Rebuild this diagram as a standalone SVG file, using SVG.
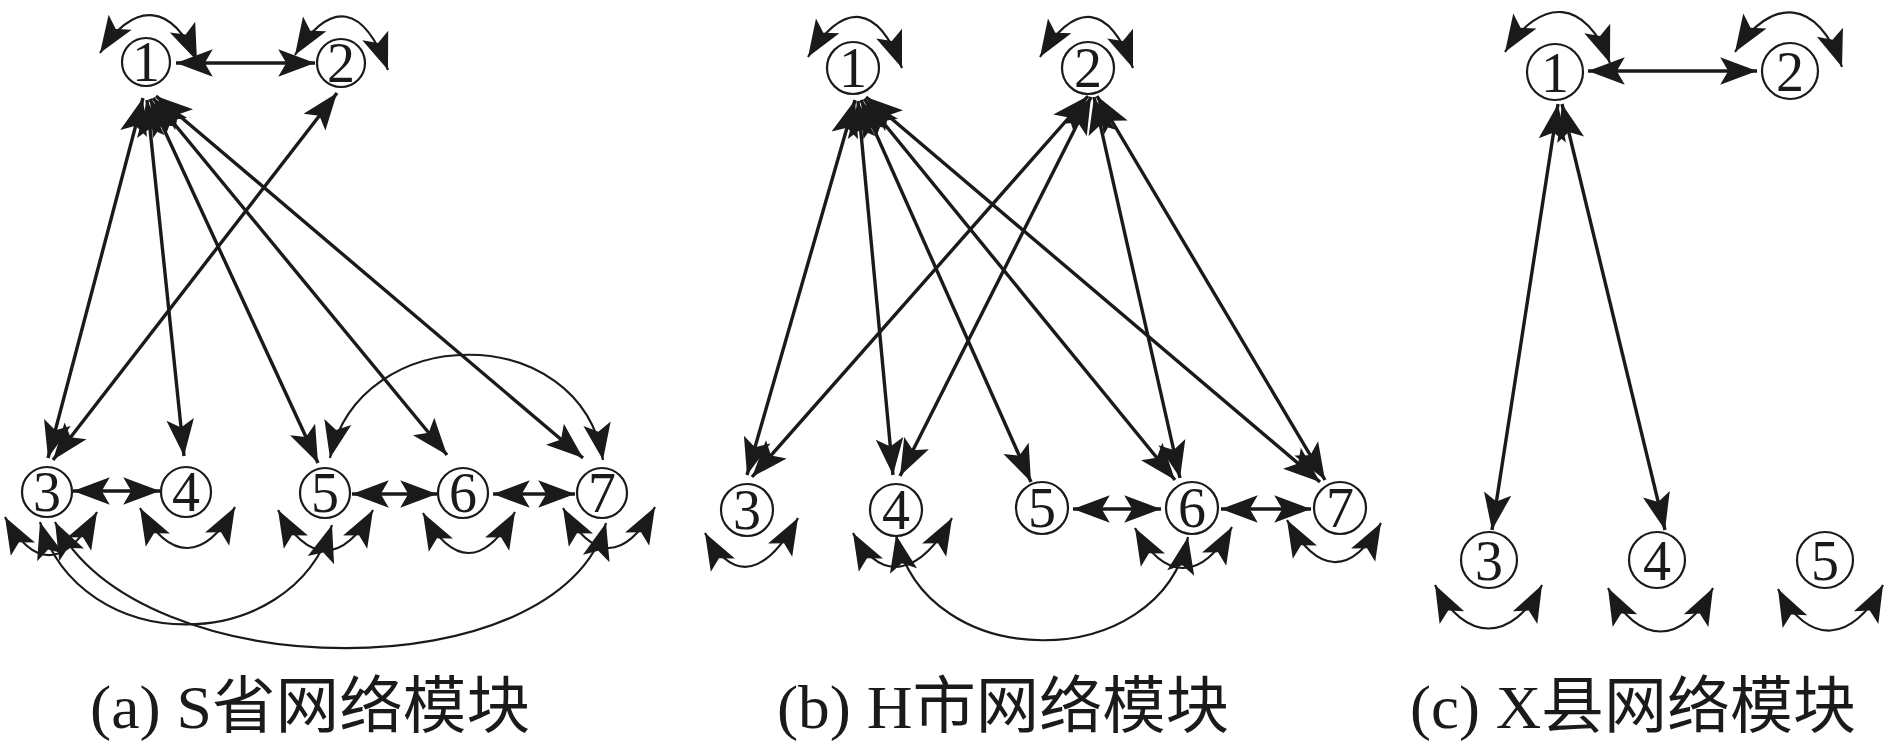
<svg xmlns="http://www.w3.org/2000/svg" width="1890" height="751" viewBox="0 0 1890 751">
<style>
.nd circle{fill:#fff;stroke:#1a1a1a;stroke-width:2.2}
.nd text{font-family:"Liberation Serif","Times New Roman",serif;font-size:56px;fill:#1a1a1a;text-anchor:middle}
.e{fill:none;stroke:#1a1a1a;stroke-width:3.4;marker-start:url(#ah);marker-end:url(#ah)}
.c{fill:none;stroke:#1a1a1a;stroke-width:2.2;marker-start:url(#ah);marker-end:url(#ah)}
.cap{font-family:"Liberation Serif","Noto Sans CJK SC",serif;font-size:62px;fill:#1a1a1a}
</style>
<defs>
<marker id="ah" viewBox="0 0 44 30" refX="42" refY="15" markerWidth="50.6" markerHeight="34.5" markerUnits="userSpaceOnUse" orient="auto-start-reverse" overflow="visible">
<path d="M42,15 L10,3 L17,15 L10,27 Z" fill="#1a1a1a"/>
</marker>
</defs>
<rect width="1890" height="751" fill="#fff"/>
<g id="connectors">
<!-- panel a -->
<path class="e" d="M176,63 L315,63"/>
<path class="e" d="M143,98 L48,458"/>
<path class="e" d="M147,100 L184,456"/>
<path class="e" d="M150,99 L318,463"/>
<path class="e" d="M153,98 L447,455"/>
<path class="e" d="M156,96 L583,458"/>
<path class="e" d="M337,93 L53,460"/>
<path class="e" d="M73,491 L160,491"/>
<path class="e" d="M352,494 L437,494"/>
<path class="e" d="M493,494 L575,494"/>
<path class="c" d="M100,53 C136,-2 173,5 197,61"/>
<path class="c" d="M295,55 C331,-2 364,5 388,70"/>
<path class="c" d="M5,517 C35,571 67,566 97,512"/>
<path class="c" d="M140,508 C170,562 205,561 235,507"/>
<path class="c" d="M278,510 C308,564 343,564 373,510"/>
<path class="c" d="M423,513 C453,567 485,566 515,512"/>
<path class="c" d="M563,508 C593,562 625,561 655,507"/>
<path class="c" d="M40,522 C80,658 290,658 332,525"/>
<path class="c" d="M55,522 C140,690 560,690 606,523"/>
<path class="c" d="M330,458 C360,320 580,320 603,460"/>
<!-- panel b -->
<path class="e" d="M855,100 L747,475"/>
<path class="e" d="M858,101 L893,475"/>
<path class="e" d="M861,100 L1031,482"/>
<path class="e" d="M864,99 L1175,480"/>
<path class="e" d="M866,97 L1320,482"/>
<path class="e" d="M1088,96 L752,477"/>
<path class="e" d="M1091,97 L900,476"/>
<path class="e" d="M1094,97 L1180,478"/>
<path class="e" d="M1097,96 L1325,480"/>
<path class="e" d="M1073,509 L1161,509"/>
<path class="e" d="M1221,509 L1311,509"/>
<path class="c" d="M808,57 C844,0 878,4 902,68"/>
<path class="c" d="M1040,57 C1076,0 1109,4 1133,68"/>
<path class="c" d="M705,533 C735,587 768,572 798,518"/>
<path class="c" d="M853,533 C883,587 922,572 952,518"/>
<path class="c" d="M1135,528 C1165,582 1202,581 1232,527"/>
<path class="c" d="M1287,520 C1317,574 1351,577 1381,523"/>
<path class="c" d="M896,535 C925,675 1160,675 1188,537"/>
<!-- panel c -->
<path class="e" d="M1588,71 L1757,71"/>
<path class="e" d="M1558,104 L1492,530"/>
<path class="e" d="M1562,104 L1665,530"/>
<path class="c" d="M1505,52 C1541,-4 1586,-2 1610,63"/>
<path class="c" d="M1735,52 C1771,-4 1818,-2 1842,67"/>
<path class="c" d="M1435,585 C1465,643 1512,643 1542,585"/>
<path class="c" d="M1608,588 C1638,646 1683,646 1713,588"/>
<path class="c" d="M1778,589 C1808,647 1853,643 1883,585"/>
</g>
<g id="a1" class="nd"><circle cx="146" cy="62" r="24"/><text x="146" y="81">1</text></g>
<g id="a2" class="nd"><circle cx="341" cy="63" r="24"/><text x="341" y="82">2</text></g>
<g id="a3" class="nd"><circle cx="47" cy="492" r="25"/><text x="47" y="511">3</text></g>
<g id="a4" class="nd"><circle cx="186" cy="492" r="25"/><text x="186" y="511">4</text></g>
<g id="a5" class="nd"><circle cx="325" cy="493" r="25"/><text x="325" y="512">5</text></g>
<g id="a6" class="nd"><circle cx="463" cy="493" r="25"/><text x="463" y="512">6</text></g>
<g id="a7" class="nd"><circle cx="602" cy="493" r="25"/><text x="602" y="512">7</text></g>
<g id="b1" class="nd"><circle cx="853" cy="68" r="26"/><text x="853" y="87">1</text></g>
<g id="b2" class="nd"><circle cx="1088" cy="68" r="26"/><text x="1088" y="87">2</text></g>
<g id="b3" class="nd"><circle cx="747" cy="510" r="26"/><text x="747" y="529">3</text></g>
<g id="b4" class="nd"><circle cx="896" cy="510" r="26"/><text x="896" y="529">4</text></g>
<g id="b5" class="nd"><circle cx="1042" cy="508" r="26"/><text x="1042" y="527">5</text></g>
<g id="b6" class="nd"><circle cx="1192" cy="508" r="26"/><text x="1192" y="527">6</text></g>
<g id="b7" class="nd"><circle cx="1340" cy="508" r="26"/><text x="1340" y="527">7</text></g>
<g id="c1" class="nd"><circle cx="1555" cy="72" r="28"/><text x="1555" y="92">1</text></g>
<g id="c2" class="nd"><circle cx="1790" cy="71" r="28"/><text x="1790" y="91">2</text></g>
<g id="c3" class="nd"><circle cx="1489" cy="560" r="28"/><text x="1489" y="580">3</text></g>
<g id="c4" class="nd"><circle cx="1657" cy="560" r="28"/><text x="1657" y="580">4</text></g>
<g id="c5" class="nd"><circle cx="1825" cy="560" r="28"/><text x="1825" y="580">5</text></g>
<g id="captions">
<text class="cap" x="90" y="728" textLength="440" lengthAdjust="spacingAndGlyphs">(a) S省网络模块</text>
<text class="cap" x="777" y="728" textLength="452" lengthAdjust="spacingAndGlyphs">(b) H市网络模块</text>
<text class="cap" x="1410" y="728" textLength="446" lengthAdjust="spacingAndGlyphs">(c) X县网络模块</text>
</g>
</svg>
